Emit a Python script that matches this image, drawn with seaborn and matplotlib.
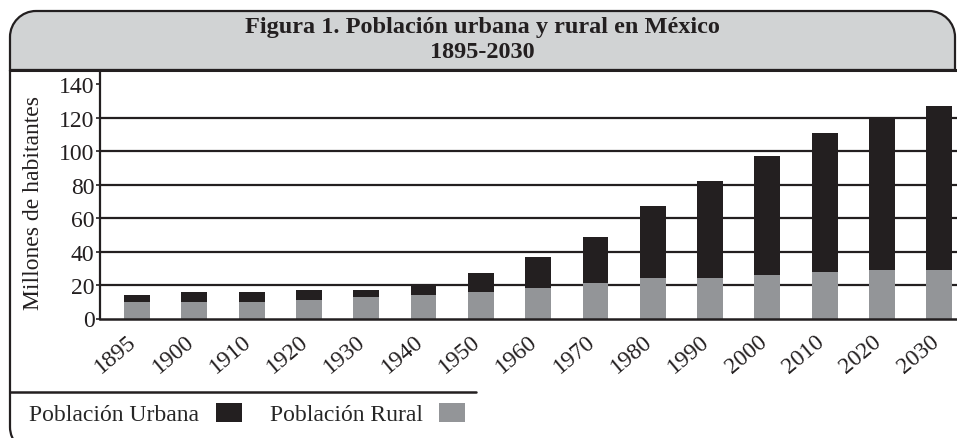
import numpy as np
import pandas as pd
import matplotlib
matplotlib.use("Agg")
import matplotlib.pyplot as plt
import matplotlib.transforms as mtransforms
from matplotlib.path import Path
from matplotlib.patches import PathPatch
from matplotlib.lines import Line2D
import seaborn as sns

# data (millones de habitantes)
anios = ["1895", "1900", "1910", "1920", "1930", "1940", "1950", "1960",
         "1970", "1980", "1990", "2000", "2010", "2020", "2030"]
rural = [10, 10, 10, 11, 13, 14, 16, 18, 21, 24, 24, 26, 28, 29, 29]
urbana = [4, 6, 6, 6, 4, 6, 11, 19, 28, 43, 58, 71, 83, 91, 98]

df = pd.DataFrame({"anio": anios, "rural": rural, "urbana": urbana})
df["total"] = df["rural"] + df["urbana"]

negro = "#231f20"
gris = "#939598"
banda = "#d1d3d4"

sns.set_style("white")
plt.rcParams["font.family"] = ["Liberation Serif", "DejaVu Serif"]

W, H = 957, 439
fig = plt.figure(figsize=(W / 100, H / 100), dpi=100)


def px(x, y):
    return (x / W, 1 - y / H)


ax = fig.add_axes([100 / W, 1 - 319.5 / H, (W - 100) / W, (319.5 - 71) / H])

# stacked bars: total (urban on top) then rural over it
sns.barplot(data=df, x="anio", y="total", color=negro, saturation=1,
            width=0.45, linewidth=0, label="Población Urbana", ax=ax)
sns.barplot(data=df, x="anio", y="rural", color=gris, saturation=1,
            width=0.45, linewidth=0, label="Población Rural", ax=ax)

ax.set_xlim(-0.646, 14.31)
ax.set_ylim(0, 148.5)
ax.set_yticks(range(0, 141, 20))
ax.set_axisbelow(True)
ax.yaxis.grid(True, color=negro, linewidth=1.6)
ax.get_ygridlines()[-1].set_visible(False)
ax.get_ygridlines()[0].set_visible(False)

for s in ["top", "right"]:
    ax.spines[s].set_visible(False)
ax.spines["bottom"].set_linewidth(1.8)
ax.spines["bottom"].set_color(negro)
ax.spines["left"].set_linewidth(1.6)
ax.spines["left"].set_color(negro)

ax.tick_params(axis="y", left=True, length=3, width=1.2, color=negro,
               pad=1, labelsize=17, labelcolor=negro)
ax.tick_params(axis="x", bottom=False, pad=5, labelsize=17, labelcolor=negro)
offset = mtransforms.ScaledTranslation(-10 / 100, 0, fig.dpi_scale_trans)
for lab in ax.get_xticklabels():
    lab.set_rotation(40)
    lab.set_ha("right")
    lab.set_va("top")
    lab.set_rotation_mode("anchor")
    lab.set_transform(lab.get_transform() + offset)

ax.set_xlabel("")
ax.set_ylabel("Millones de habitantes", fontsize=17, color=negro)
ax.yaxis.set_label_coords(-56 / 857, 0.47)

handles, labels = ax.get_legend_handles_labels()
ax.legend_ = None
fig.legend(handles, labels, loc="center left", bbox_to_anchor=px(29, 415),
           ncol=2, markerfirst=False, frameon=False, fontsize=17,
           handlelength=1.1, handleheight=0.85, handletextpad=0.7,
           columnspacing=1.2, borderpad=0, borderaxespad=0)

# frame: grey title band with rounded top corners
r = 26
k = 0.5523 * r
band_verts = [px(10, 71), px(10, 12 + r),
              px(10, 12 + r - k), px(10 + r - k, 12), px(10 + r, 12),
              px(955 - r, 12),
              px(955 - r + k, 12), px(955, 12 + r - k), px(955, 12 + r),
              px(955, 71), px(10, 71)]
band_codes = [Path.MOVETO, Path.LINETO,
              Path.CURVE4, Path.CURVE4, Path.CURVE4,
              Path.LINETO,
              Path.CURVE4, Path.CURVE4, Path.CURVE4,
              Path.LINETO, Path.CLOSEPOLY]
fig.add_artist(PathPatch(Path(band_verts, band_codes), facecolor=banda,
                         edgecolor=negro, linewidth=1.6,
                         transform=fig.transFigure, zorder=2))

# left border with rounded bottom corner
left_verts = [px(10, 71), px(10, 428),
              px(10, 428 + k), px(10 + r - k, 454), px(10 + r, 454)]
left_codes = [Path.MOVETO, Path.LINETO, Path.CURVE4, Path.CURVE4, Path.CURVE4]
fig.add_artist(PathPatch(Path(left_verts, left_codes), facecolor="none",
                         edgecolor=negro, linewidth=1.6,
                         transform=fig.transFigure, zorder=2))

# band bottom rule and legend separator
fig.add_artist(Line2D([10 / W, 1], [1 - 71 / H] * 2, color=negro,
                      linewidth=2.2, transform=fig.transFigure, zorder=3))
fig.add_artist(Line2D([10 / W, 476 / W], [1 - 393 / H] * 2, color=negro,
                      linewidth=1.8, transform=fig.transFigure, zorder=3))

fig.text(482 / W, 1 - 28 / H, "Figura 1. Población urbana y rural en México",
         ha="center", va="center", fontsize=17.5, fontweight="bold",
         color=negro, zorder=4)
fig.text(482 / W, 1 - 52 / H, "1895-2030", ha="center", va="center",
         fontsize=17.5, fontweight="bold", color=negro, zorder=4)

fig.savefig("out.png", dpi=100)
